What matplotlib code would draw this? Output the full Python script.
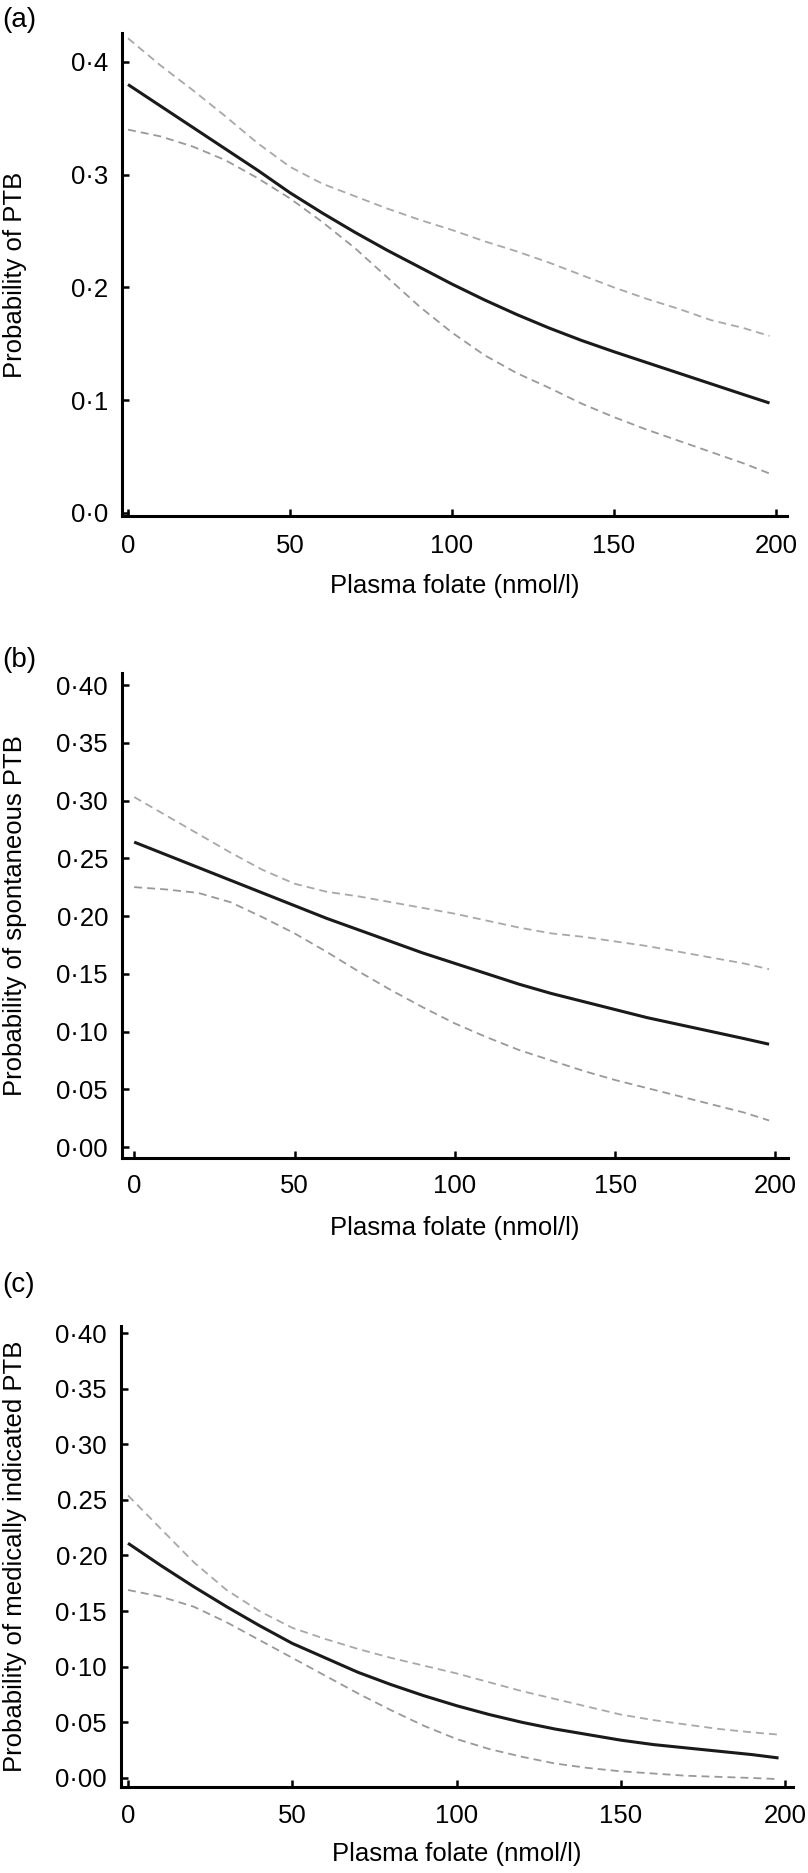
import matplotlib
matplotlib.use("Agg")
import matplotlib.pyplot as plt

plt.rcParams["font.family"] = ["Liberation Sans", "DejaVu Sans"]

folate = [0, 10, 20, 30, 40, 50, 60, 70, 80, 90, 100,
          110, 120, 130, 140, 150, 160, 170, 180, 190, 198]

# (a) any PTB
ptb_fit = [0.380, 0.361, 0.342, 0.323, 0.304, 0.284, 0.266, 0.249, 0.233, 0.218, 0.203,
           0.189, 0.176, 0.164, 0.153, 0.143, 0.1335, 0.124, 0.1145, 0.105, 0.0975]
ptb_upper = [0.421, 0.397, 0.375, 0.352, 0.328, 0.307, 0.292, 0.281, 0.270, 0.260, 0.251,
             0.241, 0.232, 0.222, 0.211, 0.200, 0.190, 0.181, 0.171, 0.164, 0.157]
ptb_lower = [0.340, 0.334, 0.325, 0.313, 0.297, 0.279, 0.258, 0.235, 0.209, 0.183, 0.160,
             0.140, 0.124, 0.111, 0.097, 0.085, 0.074, 0.064, 0.054, 0.044, 0.035]

# (b) spontaneous PTB
spont_fit = [0.264, 0.253, 0.242, 0.231, 0.220, 0.209, 0.198, 0.188, 0.178, 0.168, 0.159,
             0.150, 0.141, 0.133, 0.126, 0.119, 0.112, 0.106, 0.100, 0.094, 0.089]
spont_upper = [0.303, 0.287, 0.271, 0.255, 0.240, 0.228, 0.221, 0.217, 0.212, 0.207, 0.202,
               0.196, 0.190, 0.185, 0.182, 0.178, 0.174, 0.169, 0.164, 0.159, 0.154]
spont_lower = [0.225, 0.223, 0.220, 0.212, 0.199, 0.185, 0.169, 0.152, 0.136, 0.121, 0.107,
               0.095, 0.084, 0.075, 0.066, 0.058, 0.051, 0.044, 0.037, 0.030, 0.023]

# (c) medically indicated PTB
med_fit = [0.211, 0.191, 0.172, 0.154, 0.137, 0.121, 0.108, 0.095, 0.084, 0.074, 0.065,
           0.057, 0.050, 0.044, 0.039, 0.034, 0.030, 0.027, 0.024, 0.021, 0.018]
med_upper = [0.254, 0.224, 0.194, 0.169, 0.150, 0.135, 0.125, 0.116, 0.108, 0.101, 0.094,
             0.086, 0.078, 0.071, 0.064, 0.057, 0.052, 0.048, 0.044, 0.041, 0.039]
med_lower = [0.169, 0.163, 0.154, 0.140, 0.124, 0.108, 0.092, 0.076, 0.061, 0.047, 0.035,
             0.026, 0.019, 0.013, 0.009, 0.006, 0.004, 0.002, 0.001, 0.000, -0.001]

x_ticks = [0, 50, 100, 150, 200]
y_ticks_a = [0.0, 0.1, 0.2, 0.3, 0.4]
y_labels_a = ["0·0", "0·1", "0·2", "0·3", "0·4"]
y_ticks_bc = [0.0, 0.05, 0.10, 0.15, 0.20, 0.25, 0.30, 0.35, 0.40]
y_labels_b = ["0·00", "0·05", "0·10", "0·15", "0·20", "0·25", "0·30", "0·35", "0·40"]
y_labels_c = ["0·00", "0·05", "0·10", "0·15", "0·20", "0.25", "0·30", "0·35", "0·40"]

W, H = 808, 1873
FS = 18.5

panels = [
    # tag, ylabel, fit, upper, lower, yticks, ylabels, box (px), xlim, ylim, xpad, xlabel y, tag y
    ("(a)", "Probability of PTB", ptb_fit, ptb_upper, ptb_lower, y_ticks_a, y_labels_a,
     (122, 33, 787, 516), (-1.85, 203.4), (-0.0027, 0.4257), 13, 586, 20),
    ("(b)", "Probability of spontaneous PTB", spont_fit, spont_upper, spont_lower,
     y_ticks_bc, y_labels_b,
     (122, 673, 788, 1158), (-3.8, 203.9), (-0.0095, 0.4104), 11.5, 1228, 660),
    ("(c)", "Probability of medically indicated PTB", med_fit, med_upper, med_lower,
     y_ticks_bc, y_labels_c,
     (121, 1326, 793, 1787), (-2.13, 202.4), (-0.0081, 0.4063), 12, 1854, 1285),
]

fig = plt.figure(figsize=(W / 100, H / 100), dpi=100)

for tag, ylab, fit, upper, lower, yt, yl, box, xl, yli, xpad, xlab_y, tag_y in panels:
    x0, y0, x1, y1 = box
    ax = fig.add_axes([x0 / W, 1 - y1 / H, (x1 - x0) / W, (y1 - y0) / H])
    ax.plot(folate, upper, color="#a8a8a8", lw=1.3, dashes=(4.4, 2.8))
    ax.plot(folate, lower, color="#999999", lw=1.3, dashes=(4.4, 2.8))
    ax.plot(folate, fit, color="#1a1a1a", lw=2.2, solid_capstyle="butt")
    ax.set_xlim(*xl)
    ax.set_ylim(*yli)
    ax.set_xticks(x_ticks)
    ax.set_yticks(yt)
    ax.set_yticklabels(yl)
    for side in ("top", "right"):
        ax.spines[side].set_visible(False)
    for side in ("left", "bottom"):
        ax.spines[side].set_linewidth(2.2)
    ax.tick_params(direction="in", length=5.2, width=1.8, labelsize=FS)
    ax.tick_params(axis="y", pad=10)
    ax.tick_params(axis="x", pad=xpad)
    ax.set_xlabel("Plasma folate (nmol/l)", fontsize=FS)
    ax.xaxis.set_label_coords(0.5, (y1 - xlab_y) / (y1 - y0))
    ax.xaxis.label.set_va("center")
    ax.set_ylabel(ylab, fontsize=FS)
    ax.yaxis.set_label_coords((15 - x0) / (x1 - x0), 0.5)
    ax.yaxis.label.set_va("center")
    fig.text(2 / W, 1 - tag_y / H, tag, fontsize=20, ha="left", va="center")

fig.savefig("out.png", dpi=100)
